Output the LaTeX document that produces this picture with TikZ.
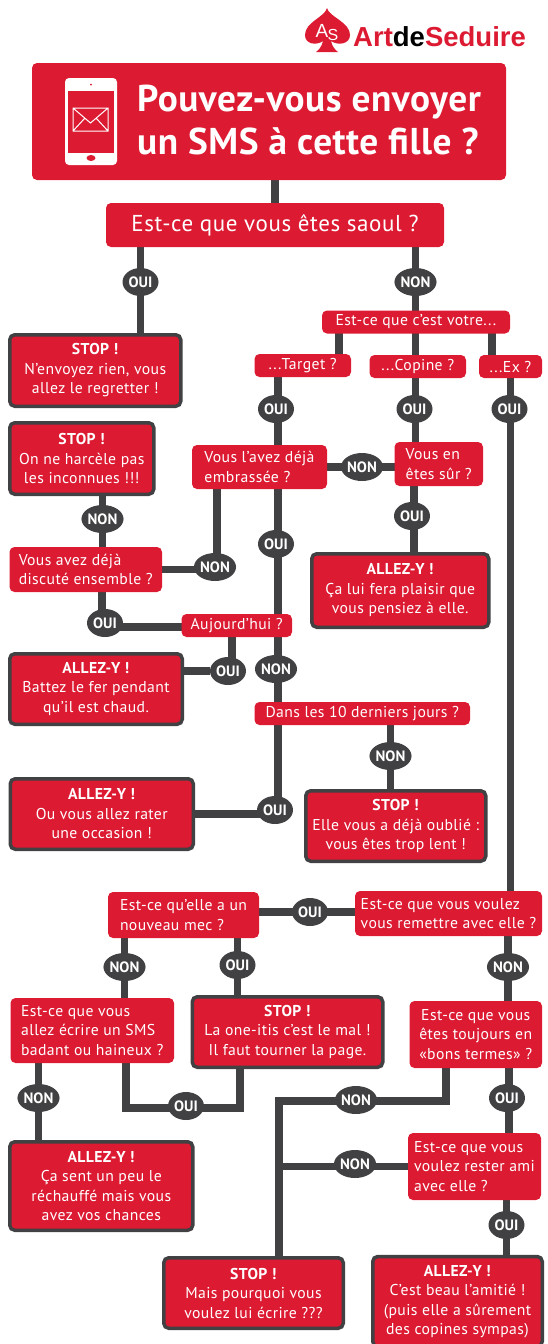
\documentclass[tikz,border=0pt]{standalone}
\usepackage{fontspec}
\setmainfont[LetterSpace=2.5]{PT Sans}
\newfontfamily\logofont{Liberation Sans}
\usetikzlibrary{shapes.geometric,backgrounds}
\definecolor{sedred}{HTML}{DC1A32}
\definecolor{seddark}{HTML}{414042}
\tikzset{
  quest/.style={fill=sedred,rounded corners=5pt,inner sep=0pt,text=white,align=center,font=\fontsize{15.7}{19.5}\selectfont},
  verdict/.style={quest,draw=seddark,line width=3.5pt},
  oui/.style={ellipse,fill=seddark,text=white,inner sep=0pt,minimum width=36pt,minimum height=28pt,font=\fontsize{15}{15}\selectfont\bfseries\addfontfeature{LetterSpace=0}},
  non/.style={oui,minimum width=41pt},
  link/.style={draw=seddark,line width=7.5pt}
}
\begin{document}
\begin{tikzpicture}[x=1pt,y=-1pt]
  \path[use as bounding box,clip] (0,0) rectangle (548,1344);
  % logo
  \fill[sedred] (327,8) .. controls (329,17) and (350,22) .. (350,35) .. controls (350,44) and (338,46) .. (331,41) .. controls (332,46) and (335,50) .. (338,52) -- (316,52) .. controls (319,50) and (322,46) .. (323,41) .. controls (316,46) and (305,44) .. (305,35) .. controls (305,22) and (325,17) .. (327,8) -- cycle;
  \node[text=white,font=\logofont\fontsize{19}{19}\selectfont] (logoa) at (322,31) {A};
  \node[text=white,font=\logofont\fontsize{16}{16}\selectfont] (logos) at (333,35) {S};
  \node[anchor=base west,inner sep=0pt,text=sedred,font=\logofont\fontsize{27.5}{27.5}\selectfont\bfseries] (logo) at (353,46) {Art{\color{black}de}Seduire};
  % title
  \node[quest,minimum width=474pt,minimum height=117pt] (title) at (269,121.5) {};
  \node[anchor=west,inner sep=0pt,text=white,align=left,font=\fontsize{37.3}{43}\selectfont\bfseries\addfontfeature{LetterSpace=1.5}] (titletext) at (137,120.5) {Pouvez-vous envoyer\\un SMS à cette fille ?};
  \fill[white,rounded corners=4pt] (65,78) rectangle (117,165);
  \fill[sedred] (67.5,91) rectangle (114,153);
  \fill[sedred] (91,158) ellipse (4.5 and 3);
  \fill[sedred] (91,84.5) circle (1);
  \draw[white,line width=1pt] (73,108) rectangle (108,131) (73,108) -- (90.5,123) -- (108,108) (73,131) -- (85,118) (108,131) -- (96,118);
  % questions
  \node[quest,minimum width=338pt,minimum height=44pt,font=\fontsize{23}{24}\selectfont] (saoul) at (275,225) {Est-ce que vous êtes saoul ?};
  \node[quest,minimum width=188pt,minimum height=23pt] (votre) at (416,322) {Est-ce que c’est votre...};
  \node[quest,minimum width=96.5pt,minimum height=23pt] (target) at (302.75,365.5) {...Target ?};
  \node[quest,minimum width=96.5pt,minimum height=23pt] (copine) at (417.75,366.5) {...Copine ?};
  \node[quest,minimum width=63pt,minimum height=23pt] (ex) at (510.5,366.5) {...Ex ?};
  \node[quest,minimum width=135pt,minimum height=44pt,align=left] (emb) at (259.5,467) {Vous l’avez déjà\\embrassée ?};
  \node[quest,minimum width=88.5pt,minimum height=44pt,align=left] (sur) at (438.75,464) {Vous en\\êtes sûr ?};
  \node[quest,minimum width=152.5pt,minimum height=45pt,align=left] (disc) at (85.75,569.5) {Vous avez déjà\\discuté ensemble ?};
  \node[quest,minimum width=110.5pt,minimum height=23pt] (aujd) at (236.75,625.5) {Aujourd’hui ?};
  \node[quest,minimum width=215.5pt,minimum height=23pt] (dans) at (362.25,713.5) {Dans les 10 derniers jours ?};
  \node[quest,minimum width=187pt,minimum height=45pt,align=left] (remettre) at (448.5,913.5) {Est-ce que vous voulez\\vous remettre avec elle ?};
  \node[quest,minimum width=151pt,minimum height=46pt,align=left] (mec) at (183.5,915) {Est-ce qu’elle a un\\nouveau mec ?};
  \node[quest,minimum width=163.5pt,minimum height=65pt,align=left] (sms) at (92.25,1030.5) {Est-ce que vous\\allez écrire un SMS\\badant ou haineux ?};
  \node[quest,minimum width=132.5pt,minimum height=67pt] (termes) at (475.75,1034.5) {Est-ce que vous\\êtes toujours en\\«bons termes» ?};
  \node[quest,minimum width=133pt,minimum height=67pt,align=left] (rester) at (474.5,1166.5) {Est-ce que vous\\voulez rester ami\\avec elle ?};
  % answers
  \node[verdict,minimum width=171pt,minimum height=71.5pt] (stopa) at (95.25,370.5) {\textbf{STOP !}\\N’envoyez rien, vous\\allez le regretter !};
  \node[verdict,minimum width=144pt,minimum height=71.5pt] (stopb) at (81.75,458.5) {\textbf{STOP !}\\On ne harcèle pas\\les inconnues !!!};
  \node[verdict,minimum width=177pt,minimum height=73.5pt] (plaisir) at (400.25,590.5) {\textbf{ALLEZ-Y !}\\Ça lui fera plaisir que\\vous pensiez à elle.};
  \node[verdict,minimum width=172.5pt,minimum height=70.5pt] (fer) at (96,689) {\textbf{ALLEZ-Y !}\\Battez le fer pendant\\qu’il est chaud.};
  \node[verdict,minimum width=183pt,minimum height=70.5pt] (rater) at (101.75,814) {\textbf{ALLEZ-Y !}\\Ou vous allez rater\\une occasion !};
  \node[verdict,minimum width=180pt,minimum height=70.5pt] (oublie) at (395.75,826) {\textbf{STOP !}\\Elle vous a déjà oublié :\\vous êtes trop lent !};
  \node[verdict,minimum width=190.5pt,minimum height=70.5pt] (itis) at (287.5,1032) {\textbf{STOP !}\\La one-itis c’est le mal !\\Il faut tourner la page.};
  \node[verdict,minimum width=183pt,minimum height=88.5pt] (chances) at (101.25,1186) {\textbf{ALLEZ-Y !}\\Ça sent un peu le\\réchauffé mais vous\\avez vos chances};
  \node[verdict,minimum width=179.5pt,minimum height=70.5pt] (mais) at (253.5,1293) {\textbf{STOP !}\\Mais pourquoi vous\\voulez lui écrire ???};
  \node[verdict,minimum width=169.5pt,minimum height=90pt] (amitie) at (457.5,1301.5) {\textbf{ALLEZ-Y !}\\C’est beau l’amitié !\\(puis elle a sûrement\\des copines sympas)};
  % bubbles
  \node[oui] (ouia) at (140.5,282) {OUI};
  \node[non] (nona) at (415.5,282) {NON};
  \node[oui] (ouit) at (276,409) {OUI};
  \node[oui] (ouic) at (414.5,409) {OUI};
  \node[oui] (ouix) at (509.5,409) {OUI};
  \node[non] (none) at (362,467) {NON};
  \node[oui] (ouis) at (412,516) {OUI};
  \node[non] (noni) at (102.5,519) {NON};
  \node[oui] (ouib) at (276,544) {OUI};
  \node[non] (nond) at (215,567) {NON};
  \node[oui] (ouid) at (105,623) {OUI};
  \node[oui] (ouif) at (228,671) {OUI};
  \node[non] (nonn) at (276,669) {NON};
  \node[non] (nonj) at (390.5,756) {NON};
  \node[oui] (ouir) at (275,810) {OUI};
  \node[oui] (ouim) at (310,912) {OUI};
  \node[non] (nonm) at (124.5,967) {NON};
  \node[oui] (ouin) at (237.5,965) {OUI};
  \node[non] (nonr) at (508,967) {NON};
  \node[non] (nons) at (38.5,1098) {NON};
  \node[oui] (ouig) at (186,1106) {OUI};
  \node[non] (nonv) at (356,1100) {NON};
  \node[oui] (ouiu) at (507,1098) {OUI};
  \node[non] (nonw) at (355,1164) {NON};
  \node[oui] (ouiy) at (506.5,1225) {OUI};
  \coordinate (trunk) at (278,0);
  \coordinate (elbowa) at (126,1108);
  \coordinate (elbowb) at (240,1108);
  \coordinate (elbowc) at (446,1101);
  \coordinate (elbowd) at (279,1101);
  \begin{pgfonlayer}{background}
    \draw[link] (title -| saoul) -- (saoul);
    \draw[link] (saoul -| ouia) -- (stopa -| ouia);
    \draw[link] (saoul -| nona) -- (copine -| nona);
    \draw[link] ([xshift=36pt]target.center) -- ([xshift=36pt]target.center |- votre);
    \draw[link] ([xshift=-18.5pt]ex.center) -- ([xshift=-18.5pt]ex.center |- votre);
    \draw[link] (target -| trunk) -- (ouir -| trunk);
    \draw[link] (copine -| nona) -- (sur -| nona);
    \draw[link] (none -| emb) -- (none -| sur);
    \draw[link] ([xshift=2pt]ouis |- sur) -- ([xshift=2pt]ouis |- plaisir);
    \draw[link] (ex) -- (ex |- remettre);
    \draw[link] (stopb -| noni) -- (disc -| noni);
    \draw[link] (disc) -- (disc -| nond);
    \draw[link] ([xshift=2pt]nond |- emb) -- ([xshift=2pt]nond.center);
    \draw[link] ([xshift=-3pt]ouid |- disc) -- ([xshift=-3pt]ouid.center);
    \draw[link] ([yshift=-4pt]ouid.center) -- ([yshift=-4pt]ouid -| aujd);
    \draw[link] ([xshift=4pt]ouif |- aujd) -- ([xshift=4pt]ouif.center);
    \draw[link] (ouif -| fer) -- (ouif);
    \draw[link] (rater) -- (rater -| ouir);
    \draw[link] (dans -| nonj) -- (oublie -| nonj);
    \draw[link] (ouim -| mec) -- (ouim -| remettre);
    \draw[link] (mec -| nonm) -- (sms -| nonm);
    \draw[link] (mec -| ouin) -- (itis -| ouin);
    \draw[link] (remettre -| nonr) -- (termes -| nonr);
    \draw[link] (sms -| nons) -- (chances -| nons);
    \draw[link] (sms -| elbowa) -- (elbowa) -- (elbowb) -- (itis -| elbowb);
    \draw[link] (termes -| elbowc) -- (elbowc) -- (elbowd) -- (mais -| elbowd);
    \draw[link] (rester) -- (rester -| elbowd);
    \draw[link] ([xshift=2pt]ouiu |- termes) -- ([xshift=2pt]ouiu |- rester);
    \draw[link] (rester -| ouiy) -- (amitie -| ouiy);
  \end{pgfonlayer}
\end{tikzpicture}
\end{document}
